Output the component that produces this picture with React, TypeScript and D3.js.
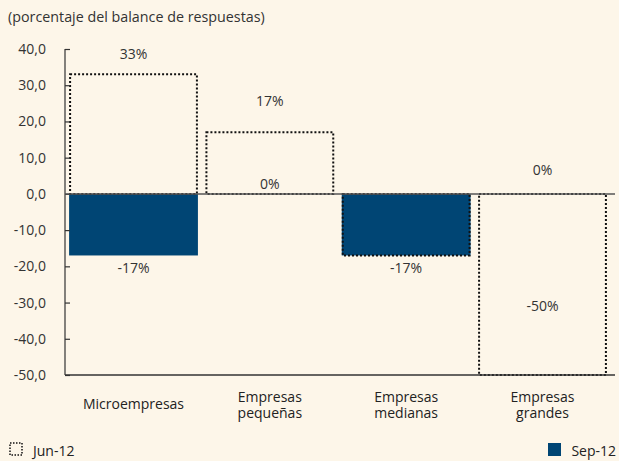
import React, { useEffect, useRef } from 'react';
import * as d3 from 'd3';

const categories = ['Microempresas', 'Empresas pequeñas', 'Empresas medianas', 'Empresas grandes'];
const categoryLines = [['Microempresas'], ['Empresas', 'pequeñas'], ['Empresas', 'medianas'], ['Empresas', 'grandes']];
const jun12 = [33, 17, -17, -50];
const sep12 = [-17, 0, -17, 0];
// where each value label sits, in axis units
const labelText = ['33%', '17%', '0%', '-17%', '-17%', '0%', '-50%'];
const labelCat = [0, 1, 1, 0, 2, 3, 3];
const labelAt = [37.2, 24.2, 1.3, -21.8, -21.8, 5.2, -32.3];
const yTicks = [40, 30, 20, 10, 0, -10, -20, -30, -40, -50];

const W = 619;
const H = 461;
const FONT = '"Open Sans", "DejaVu Sans", sans-serif';

export default function App() {
  const svgRef = useRef<SVGSVGElement>(null);

  useEffect(() => {
    document.body.style.margin = '0';
    if (!svgRef.current) return;
    const svg = d3.select(svgRef.current);
    svg.selectAll('*').remove();

    const margin = { top: 49, right: 8, bottom: 86, left: 65 };

    svg.append('rect').attr('width', W).attr('height', H).attr('fill', '#fdf6e9');

    const x = d3.scaleBand<string>()
      .domain(categories)
      .range([margin.left, W - margin.right])
      .paddingInner(0.055)
      .paddingOuter(0.03);

    const y = d3.scaleLinear()
      .domain([-50, 40])
      .range([H - margin.bottom, margin.top]);

    // title
    svg.append('text')
      .attr('x', 8)
      .attr('y', 22)
      .style('font-family', FONT)
      .style('font-size', '14.3px')
      .style('fill', '#333')
      .text('(porcentaje del balance de respuestas)');

    // Sep-12 filled bars
    svg.append('g')
      .selectAll('rect')
      .data(sep12)
      .join('rect')
      .attr('x', (_, i) => x(categories[i])!)
      .attr('width', x.bandwidth())
      .attr('y', d => y(Math.max(0, d)))
      .attr('height', d => Math.abs(y(d) - y(0)))
      .attr('fill', '#004574');

    // Jun-12 dotted outlines
    svg.append('g')
      .selectAll('rect')
      .data(jun12)
      .join('rect')
      .attr('x', (_, i) => x(categories[i])! + 1)
      .attr('width', x.bandwidth() - 2)
      .attr('y', d => y(Math.max(0, d)))
      .attr('height', d => Math.abs(y(d) - y(0)))
      .attr('fill', 'none')
      .attr('stroke', '#111')
      .attr('stroke-width', 2)
      .attr('stroke-dasharray', '2,2');

    // y axis
    const yAxis = svg.append('g')
      .attr('transform', `translate(${margin.left},0)`)
      .call(d3.axisRight(y).tickValues(yTicks).tickSize(5).tickFormat(() => ''));
    yAxis.select('.domain').attr('stroke', '#333').attr('stroke-width', 1.2).attr('d', `M0,${y(40)}H0V${y(-50)}`);
    yAxis.selectAll('.tick line').attr('stroke', '#333').attr('stroke-width', 1.2);

    svg.append('g')
      .selectAll('text')
      .data(yTicks)
      .join('text')
      .attr('x', 46)
      .attr('y', d => y(d) + 5)
      .attr('text-anchor', 'end')
      .style('font-family', FONT)
      .style('font-size', '14px')
      .style('fill', '#333')
      .text(d => d3.format('.1f')(d).replace('.', ',').replace('−', '-'));

    // zero line and bottom line
    svg.append('line')
      .attr('x1', margin.left).attr('x2', W - margin.right + 4)
      .attr('y1', y(0)).attr('y2', y(0))
      .attr('stroke', '#555').attr('stroke-width', 1.5);
    svg.append('line')
      .attr('x1', margin.left).attr('x2', W - margin.right + 4)
      .attr('y1', y(-50)).attr('y2', y(-50))
      .attr('stroke', '#333').attr('stroke-width', 1.5);

    // category labels, one text per line
    categoryLines.forEach((lines, i) => {
      const cx = x(categories[i])! + x.bandwidth() / 2;
      const y0 = lines.length === 1 ? 409 : 402;
      lines.forEach((line, j) => {
        svg.append('text')
          .attr('x', cx)
          .attr('y', y0 + j * 16)
          .attr('text-anchor', 'middle')
          .style('font-family', FONT)
          .style('font-size', '14px')
          .style('fill', '#222')
          .text(line);
      });
    });

    // value labels
    svg.append('g')
      .selectAll('text')
      .data(labelText)
      .join('text')
      .attr('x', (_, i) => x(categories[labelCat[i]])! + x.bandwidth() / 2)
      .attr('y', (_, i) => y(labelAt[i]))
      .attr('text-anchor', 'middle')
      .style('font-family', FONT)
      .style('font-size', '14px')
      .style('fill', '#333')
      .text(d => d);

    // legend
    svg.append('rect')
      .attr('x', 10).attr('y', 443).attr('width', 12).attr('height', 12)
      .attr('fill', 'none').attr('stroke', '#111').attr('stroke-width', 1.5).attr('stroke-dasharray', '1.5,1.5');
    svg.append('text')
      .attr('x', 33).attr('y', 456)
      .style('font-family', FONT).style('font-size', '14px').style('fill', '#222')
      .text('Jun-12');
    svg.append('rect')
      .attr('x', 548).attr('y', 443).attr('width', 13).attr('height', 13)
      .attr('fill', '#004574');
    svg.append('text')
      .attr('x', 616).attr('y', 456).attr('text-anchor', 'end')
      .style('font-family', FONT).style('font-size', '14px').style('fill', '#222')
      .text('Sep-12');
  }, []);

  return <svg ref={svgRef} width={W} height={H} style={{ display: 'block' }}></svg>;
}
